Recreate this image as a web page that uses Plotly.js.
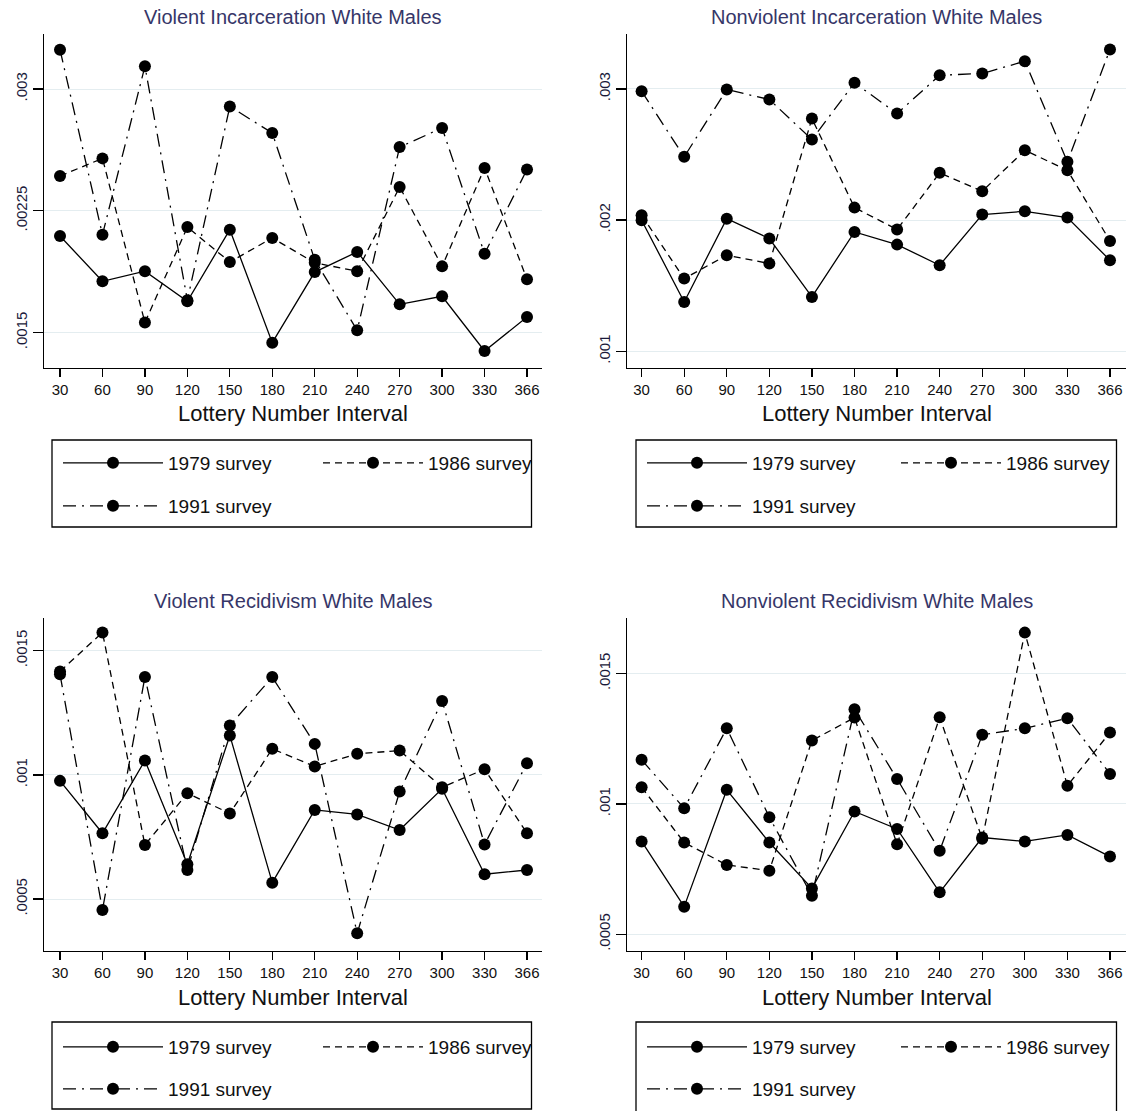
<!DOCTYPE html>
<html>
<head>
<meta charset="utf-8">
<script src="https://cdn.plot.ly/plotly-3.0.1.min.js"></script>
<style>
html,body{margin:0;padding:0;background:#fff;}
#chart{width:1130px;height:1111px;}
</style>
</head>
<body>
<div id="chart"></div>
<script>
// ---------- data ----------
const intervals = ["30","60","90","120","150","180","210","240","270","300","330","366"];
const surveys = ["1979 survey","1986 survey","1991 survey"];

const violentIncarceration1979 = [0.002095,0.001816,0.001878,0.001693,0.002134,0.001438,0.001873,0.001997,0.001674,0.001724,0.001387,0.001596];
const violentIncarceration1986 = [0.002464,0.002573,0.001562,0.002150,0.001935,0.002083,0.001930,0.001878,0.002397,0.001908,0.002514,0.001828];
const violentIncarceration1991 = [0.003242,0.002103,0.003140,0.001700,0.002893,0.002729,0.001949,0.001514,0.002643,0.002760,0.001986,0.002505];

const nonviolentIncarceration1979 = [0.001999,0.001376,0.002011,0.001859,0.001414,0.001910,0.001813,0.001656,0.002042,0.002067,0.002019,0.001694];
const nonviolentIncarceration1986 = [0.002037,0.001554,0.001732,0.001669,0.002774,0.002095,0.001928,0.002360,0.002220,0.002532,0.002380,0.001841];
const nonviolentIncarceration1991 = [0.002982,0.002482,0.002995,0.002919,0.002614,0.003046,0.002812,0.003104,0.003117,0.003211,0.002444,0.003300];

const violentRecidivism1979 = [0.000976,0.000765,0.001058,0.000640,0.001159,0.000566,0.000859,0.000841,0.000778,0.000944,0.000600,0.000617];
const violentRecidivism1986 = [0.001417,0.001574,0.000718,0.000926,0.000845,0.001105,0.001034,0.001085,0.001098,0.000950,0.001023,0.000765];
const violentRecidivism1991 = [0.001405,0.000456,0.001394,0.000617,0.001199,0.001394,0.001125,0.000362,0.000933,0.001298,0.000720,0.001047];

const nonviolentRecidivism1979 = [0.000856,0.000606,0.001054,0.000852,0.000676,0.000971,0.000904,0.000661,0.000871,0.000856,0.000881,0.000798];
const nonviolentRecidivism1986 = [0.001064,0.000852,0.000766,0.000744,0.001243,0.001331,0.000845,0.001332,0.000866,0.001657,0.001070,0.001274];
const nonviolentRecidivism1991 = [0.001169,0.000983,0.001290,0.000949,0.000648,0.001363,0.001096,0.000820,0.001265,0.001290,0.001329,0.001115];

const panelTitles = ["Violent Incarceration White Males","Nonviolent Incarceration White Males",
                     "Violent Recidivism White Males","Nonviolent Recidivism White Males"];
const xAxisTitle = "Lottery Number Interval";

const incarcTickVals1 = [0.0015,0.00225,0.003];
const incarcTickText1 = [".0015",".00225",".003"];
const incarcTickVals2 = [0.001,0.002,0.003];
const incarcTickText2 = [".001",".002",".003"];
const recidTickVals = [0.0005,0.001,0.0015];
const recidTickText = [".0005",".001",".0015"];

// ---------- layout helpers ----------
const W = 1130, H = 1111;
const fx = p => p / W;
const fy = p => 1 - p / H;
const FONT = "Liberation Sans, Arial, Helvetica, sans-serif";
const dashes = ["solid", "7px,5px", "13px,6px,2px,6px"];

const panels = [
  {series:[violentIncarceration1979,violentIncarceration1986,violentIncarceration1991],
   yr:[0.001284,0.003342], tv:incarcTickVals1, tt:incarcTickText1,
   l:44, r:542, t:33.5, b:367.7, xr:[-0.377,11.353],
   titleY:17, xtY:413, legX:[58,318,58], legY:[463,463,506], frame:[52,440,531.5,527]},
  {series:[nonviolentIncarceration1979,nonviolentIncarceration1986,nonviolentIncarceration1991],
   yr:[0.000875,0.003422], tv:incarcTickVals2, tt:incarcTickText2,
   l:627, r:1126, t:33.5, b:367.7, xr:[-0.343,11.376],
   titleY:17, xtY:413, legX:[642,896,642], legY:[463,463,506], frame:[636,440,1116.5,527]},
  {series:[violentRecidivism1979,violentRecidivism1986,violentRecidivism1991],
   yr:[0.000292,0.001634], tv:recidTickVals, tt:recidTickText,
   l:44, r:542, t:617.5, b:950.7, xr:[-0.377,11.353],
   titleY:601, xtY:997, legX:[58,318,58], legY:[1047,1047,1089], frame:[52,1022,531.5,1109]},
  {series:[nonviolentRecidivism1979,nonviolentRecidivism1986,nonviolentRecidivism1991],
   yr:[0.000437,0.001715], tv:recidTickVals, tt:recidTickText,
   l:627, r:1126, t:617.5, b:950.7, xr:[-0.343,11.376],
   titleY:601, xtY:997, legX:[642,896,642], legY:[1047,1047,1089], frame:[636,1022,1116.5,1112]}
];

const traces = [];
const layout = {
  width: W, height: H,
  margin: {l:0, r:0, t:0, b:0, pad:0},
  paper_bgcolor: "#fff", plot_bgcolor: "#fff",
  font: {family: FONT, color: "#111"},
  annotations: [], shapes: []
};

panels.forEach((p, i) => {
  const xa = i === 0 ? "xaxis" : "xaxis" + (i + 1);
  const ya = i === 0 ? "yaxis" : "yaxis" + (i + 1);
  const xr = i === 0 ? "x" : "x" + (i + 1);
  const yr = i === 0 ? "y" : "y" + (i + 1);
  layout[xa] = {
    domain: [fx(p.l), fx(p.r)], anchor: yr, type: "category",
    categoryorder: "array", categoryarray: intervals, range: p.xr,
    showline: true, linecolor: "#000", linewidth: 1.5,
    ticks: "outside", ticklen: 8, tickwidth: 1.3, tickcolor: "#000",
    showgrid: false, zeroline: false, fixedrange: true,
    tickfont: {family: FONT, size: 15, color: "#111"}
  };
  layout[ya] = {
    domain: [fy(p.b), fy(p.t)], anchor: xr, range: p.yr,
    tickvals: p.tv, ticktext: p.tt, tickangle: -90,
    showline: true, linecolor: "#000", linewidth: 1.5,
    ticks: "outside", ticklen: 10, tickwidth: 1.3, tickcolor: "#000",
    showgrid: true, gridcolor: "#e4edf0", gridwidth: 1,
    zeroline: false, fixedrange: true,
    tickfont: {family: FONT, size: 15, color: "#1a1a3a"}
  };
  p.series.forEach((vals, s) => {
    const k = i * 3 + s;
    const lid = k === 0 ? "legend" : "legend" + (k + 1);
    traces.push({
      type: "scatter", mode: "lines+markers",
      x: intervals, y: vals, xaxis: xr, yaxis: yr,
      name: surveys[s], legend: lid, showlegend: true,
      line: {color: "#000", width: 1.3, dash: dashes[s]},
      marker: {symbol: "circle", size: 12, color: "#000"},
      hoverinfo: "skip"
    });
    layout[lid] = {
      x: fx(p.legX[s]), xanchor: "left",
      y: fy(p.legY[s]), yanchor: "middle",
      orientation: "v", bgcolor: "rgba(0,0,0,0)", borderwidth: 0,
      itemwidth: 100, itemclick: false, itemdoubleclick: false,
      font: {family: FONT, size: 19, color: "#111"}
    };
  });
  layout.annotations.push({
    text: panelTitles[i], xref: "paper", yref: "paper",
    x: fx((p.l + p.r) / 2), y: fy(p.titleY), xanchor: "center", yanchor: "middle",
    showarrow: false, font: {family: FONT, size: 20, color: "#363668"}
  });
  layout.annotations.push({
    text: xAxisTitle, xref: "paper", yref: "paper",
    x: fx((p.l + p.r) / 2), y: fy(p.xtY), xanchor: "center", yanchor: "middle",
    showarrow: false, font: {family: FONT, size: 22, color: "#111"}
  });
  layout.shapes.push({
    type: "rect", xref: "paper", yref: "paper",
    x0: fx(p.frame[0]), x1: fx(p.frame[2]), y0: fy(p.frame[3]), y1: fy(p.frame[1]),
    line: {color: "#000", width: 1.3}, fillcolor: "rgba(0,0,0,0)"
  });
});

Plotly.newPlot("chart", traces, layout, {displayModeBar: false, responsive: false, staticPlot: true});
</script>
</body>
</html>
